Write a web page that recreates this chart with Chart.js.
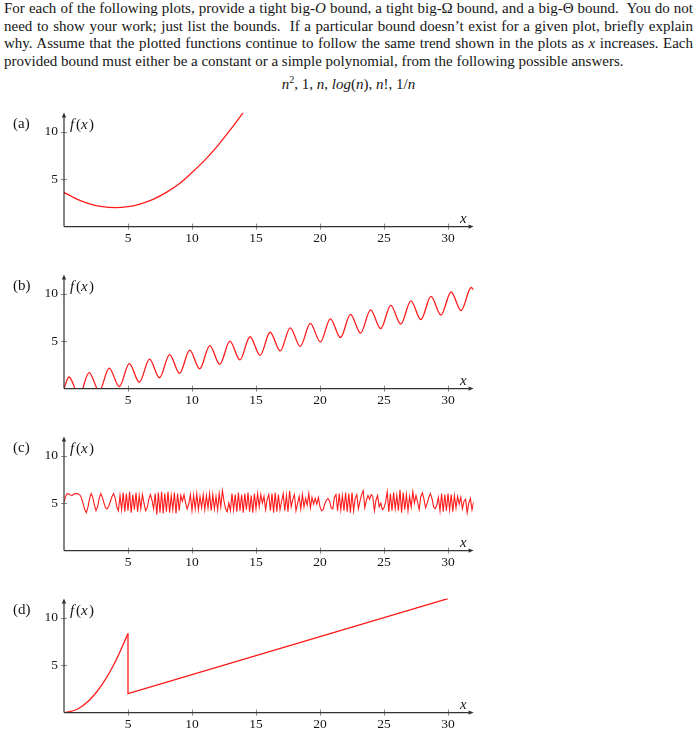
<!DOCTYPE html>
<html>
<head>
<meta charset="utf-8">
<script src="https://cdn.jsdelivr.net/npm/chart.js@4.4.1/dist/chart.umd.min.js"></script>
<style>
  body { margin: 0; background: #fff; overflow: hidden; width: 696px; height: 736px; position: relative; }
  #question { position: absolute; left: 4px; top: 0; width: 689px; font-family: "Liberation Serif", serif; font-size: 15px; line-height: 17.6px; color: #151515; }
  .just { text-align: justify; text-align-last: justify; }
  #answers { position: absolute; left: 0; top: 76px; width: 697px; text-align: center; font-family: "Liberation Serif", serif; font-size: 15px; line-height: 17.6px; color: #151515; }
  #answers sup { font-size: 10px; line-height: 0; }
  .panel { position: absolute; left: 0; width: 696px; height: 160px; }
</style>
</head>
<body>
<div id="question">
  <div class="just">For each of the following plots, provide a tight big-<i>O</i> bound, a tight big-Ω bound, and a big-Θ bound.&nbsp; You do not</div>
  <div class="just">need to show your work; just list the bounds.&nbsp; If a particular bound doesn’t exist for a given plot, briefly explain</div>
  <div class="just">why. Assume that the plotted functions continue to follow the same trend shown in the plots as <i>x</i> increases. Each</div>
  <div>provided bound must either be a constant or a simple polynomial, from the following possible answers.</div>
</div>
<div id="answers"><i>n</i><sup>2</sup>, 1, <i>n</i>, <i>log</i>(<i>n</i>), <i>n</i>!, 1/<i>n</i></div>

<div class="panel" style="top: 97px;"><canvas id="chart-a" width="696" height="160"></canvas></div>
<div class="panel" style="top: 259px;"><canvas id="chart-b" width="696" height="160"></canvas></div>
<div class="panel" style="top: 421px;"><canvas id="chart-c" width="696" height="160"></canvas></div>
<div class="panel" style="top: 583px;"><canvas id="chart-d" width="696" height="160"></canvas></div>

<script>
'use strict';

//**********Global Variables*******************

let xTicks = [5, 10, 15, 20, 25, 30];
let yTicks = [5, 10];
let xMax = 32;
let yMax = 12;

// (a) a bowl shaped curve
let aX = [0, 1, 2, 3, 4, 5, 6, 7, 8, 9, 10, 11, 12, 13, 14];
let aY = [3.6, 2.9, 2.4, 2.1, 2.0, 2.1, 2.4, 2.9, 3.6, 4.5, 5.7, 7.0, 8.5, 10.2, 12.0];

// (b) wave climbing upward - peaks and troughs
let bX = [0, 0.39, 1.18, 1.96, 2.75, 3.53, 4.32, 5.10, 5.89, 6.68, 7.46, 8.25, 9.03, 9.82, 10.60,
  11.39, 12.17, 12.96, 13.74, 14.53, 15.32, 16.10, 16.89, 17.67, 18.46, 19.24, 20.03, 20.81,
  21.60, 22.38, 23.17, 23.95, 24.74, 25.53, 26.31, 27.10, 27.88, 28.67, 29.45, 30.24, 31.02, 31.81, 32];
let bY = [0, 1.22, -0.75, 1.69, -0.28, 2.16, 0.20, 2.63, 0.67, 3.10, 1.14, 3.58, 1.61, 4.05, 2.08,
  4.52, 2.55, 4.99, 3.02, 5.46, 3.50, 5.93, 3.97, 6.40, 4.44, 6.87, 4.91, 7.34,
  5.38, 7.81, 5.85, 8.29, 6.32, 8.76, 6.79, 9.23, 7.26, 9.70, 7.74, 10.17, 8.21, 10.64, 10.4];

// (c) noisy signal around 5, one value every 1/8 of a unit
let cStep = 0.125;
let cY = [
  5.1, 5.7, 6.0, 5.95, 5.85, 5.8, 5.9, 6.0,
  6.0, 5.95, 5.85, 5.5, 4.9, 4.3, 4.0, 4.6,
  5.5, 6.0, 5.6, 4.8, 4.2, 4.6, 5.5, 6.0,
  5.6, 5.0, 4.5, 4.4, 4.7, 5.2, 5.7, 6.0,
  5.5, 4.6, 4.2, 5.8, 4.3, 6.1, 4.1, 6.0,
  4.2, 6.2, 4.0, 5.9, 4.3, 6.1, 4.1, 5.8,
  4.4, 5.9, 5.0, 4.2, 4.5, 5.4, 5.9, 5.3,
  4.4, 6.0, 3.8, 6.1, 4.0, 6.2, 3.9, 6.0,
  4.1, 6.2, 4.0, 5.8, 4.3, 6.1, 3.9, 6.0,
  4.2, 5.8, 5.2, 5.9, 5.0, 4.4, 4.9, 5.9,
  4.2, 5.8, 4.4, 6.0, 4.3, 5.7, 4.5, 5.9,
  4.3, 5.8, 4.5, 6.0, 4.2, 5.9, 4.4, 5.7,
  4.3, 6.0, 4.6, 6.3, 5.2, 4.4, 4.1, 5.0,
  4.2, 6.0, 4.3, 5.9, 4.1, 6.1, 4.2, 5.9,
  4.0, 6.0, 4.3, 6.1, 4.1, 5.8, 4.0, 6.0,
  4.4, 6.0, 4.6, 5.9, 5.0, 5.7, 4.3, 5.4,
  5.9, 4.2, 6.0, 4.0, 6.1, 4.1, 5.9, 4.3,
  5.2, 6.0, 4.2, 5.8, 4.1, 6.3, 4.6, 5.4,
  5.9, 4.2, 5.0, 5.7, 4.4, 5.9, 4.6, 5.5,
  4.8, 6.0, 4.5, 5.6, 4.9, 5.5, 4.9, 5.6,
  4.6, 4.2, 4.3, 4.9, 5.3, 5.5, 5.2, 4.5,
  4.4, 5.6, 5.9, 4.2, 6.0, 4.3, 5.8, 4.2,
  6.1, 4.1, 6.0, 4.0, 6.1, 4.2, 5.5, 5.9,
  4.4, 5.2, 5.9, 6.3, 4.5, 5.3, 5.8, 5.4,
  5.9, 5.7, 4.2, 5.3, 5.8, 4.6, 5.0, 4.3,
  4.5, 5.1, 6.2, 4.1, 6.0, 4.2, 6.1, 4.4,
  5.8, 4.2, 6.4, 4.0, 6.1, 4.3, 5.9, 4.2,
  5.7, 4.6, 6.2, 5.0, 5.8, 5.1, 4.3, 5.7,
  6.1, 5.4, 4.5, 5.0, 5.6, 6.0, 5.5, 4.6,
  4.4, 4.8, 5.6, 4.2, 6.0, 4.1, 5.9, 4.2,
  6.0, 4.3, 5.9, 4.1, 5.8, 4.5, 5.7, 4.9,
  5.6, 4.4, 5.2, 5.4, 4.0, 5.0, 5.5, 4.3,
  5.1
];

// (d) curve up to 5, drop, then straight line
let dCurveX = [0, 1, 2, 3, 4, 5];
let dCurveY = [0, 0.33, 1.33, 3.0, 5.33, 8.33];
let dLineX = [5, 5, 30];
let dLineY = [8.33, 2.0, 12.0];

let panelNames = ['(a)', '(b)', '(c)', '(d)'];

// ************* Helper Functions ***************

function toPoints(xs, ys){
  let pts = [];
  for(let i = 0; i < xs.length; i++){
    pts.push({x: xs[i], y: ys[i]});
  }
  return pts;
}

function redLine(points, smooth, width){
  return {
    data: points,
    borderColor: '#ff1a1a',
    borderWidth: width,
    pointRadius: 0,
    fill: false,
    cubicInterpolationMode: smooth ? 'monotone' : 'default',
    tension: 0
  };
}

// draws the pgfplots style axes with arrows, ticks and labels
let axisPlugin = {
  id: 'axisPlugin',
  afterDraw(chart, args, opts){
    let ctx = chart.ctx;
    let sx = chart.scales.x;
    let sy = chart.scales.y;
    let x0 = sx.getPixelForValue(0);
    let y0 = sy.getPixelForValue(0);
    let xEnd = sx.getPixelForValue(xMax);
    let yEnd = sy.getPixelForValue(yMax);
    let top = chart.chartArea.top;

    ctx.save();
    // tick marks
    ctx.strokeStyle = '#8a8a8a';
    ctx.lineWidth = 1;
    for(let i = 0; i < xTicks.length; i++){
      let px = Math.round(sx.getPixelForValue(xTicks[i])) + 0.5;
      ctx.beginPath();
      ctx.moveTo(px, y0 - 3);
      ctx.lineTo(px, y0 + 3);
      ctx.stroke();
    }
    for(let i = 0; i < yTicks.length; i++){
      let py = Math.round(sy.getPixelForValue(yTicks[i])) + 0.5;
      ctx.beginPath();
      ctx.moveTo(x0 - 3, py);
      ctx.lineTo(x0 + 3, py);
      ctx.stroke();
    }

    // axis lines
    ctx.strokeStyle = '#333';
    ctx.fillStyle = '#333';
    ctx.lineWidth = 1.2;
    ctx.beginPath();
    ctx.moveTo(x0, y0);
    ctx.lineTo(xEnd - 3, y0);
    ctx.moveTo(x0, y0);
    ctx.lineTo(x0, yEnd + 3);
    ctx.stroke();

    // arrow heads
    ctx.beginPath();
    ctx.moveTo(xEnd, y0);
    ctx.lineTo(xEnd - 5, y0 - 2.2);
    ctx.lineTo(xEnd - 5, y0 + 2.2);
    ctx.closePath();
    ctx.fill();
    ctx.beginPath();
    ctx.moveTo(x0, yEnd);
    ctx.lineTo(x0 - 2.2, yEnd + 5);
    ctx.lineTo(x0 + 2.2, yEnd + 5);
    ctx.closePath();
    ctx.fill();

    // labels
    ctx.fillStyle = '#151515';
    ctx.textBaseline = 'middle';
    ctx.textAlign = 'left';
    ctx.font = '15px "Liberation Serif"';
    ctx.fillText(opts.name, 13, top + 11);

    ctx.font = 'italic 15px "Liberation Serif"';
    ctx.fillText('f', x0 + 6, top + 12.5);
    ctx.font = '15px "Liberation Serif"';
    ctx.fillText('(', x0 + 12, top + 12.5);
    ctx.font = 'italic 15px "Liberation Serif"';
    ctx.fillText('x', x0 + 17, top + 12.5);
    ctx.font = '15px "Liberation Serif"';
    ctx.fillText(')', x0 + 25, top + 12.5);

    ctx.font = 'italic 15px "Liberation Serif"';
    ctx.textAlign = 'center';
    ctx.fillText('x', sx.getPixelForValue(31.2), y0 - 8);
    ctx.restore();
  }
};

function makeChart(canvasId, datasets, name){
  let canvasElem = document.getElementById(canvasId);
  let tickFont = {family: '"Liberation Serif", serif', size: 13.5};

  let myObj = {
    type: 'line',
    data: {
      datasets: datasets
    },
    options: {
      responsive: false,
      animation: false,
      events: [],
      layout: {
        padding: {left: 0, right: 222.4, top: 15.6, bottom: 0}
      },
      plugins: {
        legend: {display: false},
        tooltip: {enabled: false},
        axisPlugin: {name: name}
      },
      scales: {
        x: {
          type: 'linear',
          min: 0,
          max: xMax,
          grid: {display: false, drawTicks: false},
          border: {display: false},
          afterBuildTicks: function(scale){
            scale.ticks = xTicks.map(function(v){ return {value: v}; });
          },
          afterFit: function(scale){
            scale.height = 30.4;
          },
          ticks: {
            color: '#151515',
            font: tickFont,
            padding: 4,
            maxRotation: 0,
            autoSkip: false
          }
        },
        y: {
          type: 'linear',
          min: 0,
          max: yMax,
          grid: {display: false, drawTicks: false},
          border: {display: false},
          afterBuildTicks: function(scale){
            scale.ticks = yTicks.map(function(v){ return {value: v}; });
          },
          afterFit: function(scale){
            scale.width = 64;
          },
          ticks: {
            color: '#151515',
            font: tickFont,
            padding: 6
          }
        }
      }
    },
    plugins: [axisPlugin]
  };

  return new Chart(canvasElem, myObj);
}

// ************* Object Creation ****************

let cX = [];
for(let i = 0; i < cY.length; i++){
  cX.push(i * cStep);
}

makeChart('chart-a', [redLine(toPoints(aX, aY), true, 1.3)], panelNames[0]);
makeChart('chart-b', [redLine(toPoints(bX, bY), true, 1.3)], panelNames[1]);
makeChart('chart-c', [redLine(toPoints(cX, cY), false, 1.1)], panelNames[2]);
makeChart('chart-d', [
  redLine(toPoints(dCurveX, dCurveY), true, 1.3),
  redLine(toPoints(dLineX, dLineY), false, 1.3)
], panelNames[3]);
</script>
</body>
</html>
